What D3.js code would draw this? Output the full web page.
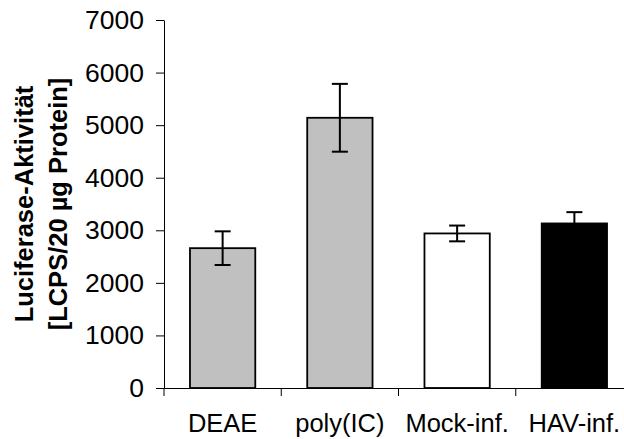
<!DOCTYPE html>
<html>
<head>
<meta charset="utf-8">
<script src="https://cdn.jsdelivr.net/npm/d3@7"></script>
<style>
  body { margin: 0; background: #fff; }
  text { font-family: "Liberation Sans", Arial, sans-serif; }
</style>
</head>
<body>
<div id="chart"></div>
<script>
//Chart data
const categories = ["DEAE", "poly(IC)", "Mock-inf.", "HAV-inf."];
const values = [2660, 5140, 2940, 3130];
const errors = [320, 645, 150, 215];
const yTicks = [0, 1000, 2000, 3000, 4000, 5000, 6000, 7000];
const titleLines = ["Luciferase-Aktivität", "[LCPS/20 µg Protein]"];

//Svg size
const c_width = 624;
const c_height = 439;

const svg = d3.select("#chart")
              .append("svg")
              .attr("width", c_width)
              .attr("height", c_height);

//Plot area
const plotLeft = 164, plotRight = 633, plotTop = 20, plotBottom = 388;

//Scales
const yScale = d3.scaleLinear()
                 .domain([0, 7000])
                 .range([plotBottom, plotTop]);

const xScale = d3.scaleBand()
                 .domain(categories)
                 .range([plotLeft, plotRight])
                 .padding(0);

const barScale = d3.scaleBand()
                   .domain(categories)
                   .range([plotLeft, plotRight])
                   .paddingInner(0.443)
                   .paddingOuter(0.2215);

const fill = d3.scaleOrdinal()
               .domain(categories)
               .range(["#c0c0c0", "#c0c0c0", "#ffffff", "#000000"]);

const data = categories.map((c, i) => ({cat: c, value: values[i], err: errors[i]}));

//Y axis
const yAxis = svg.append("g")
                 .attr("transform", "translate(" + plotLeft + ",0)")
                 .call(d3.axisLeft(yScale)
                         .tickValues(yTicks)
                         .tickFormat(d3.format("d"))
                         .tickSize(8)
                         .tickSizeOuter(0)
                         .tickPadding(12));
yAxis.selectAll("text").style("font-size", "26.5px").attr("fill", "#000");
yAxis.selectAll("line, path").attr("stroke", "#000");

//X axis (labels only, boundary ticks below)
const xAxis = svg.append("g")
                 .attr("transform", "translate(0," + plotBottom + ")")
                 .call(d3.axisBottom(xScale)
                         .tickSize(0)
                         .tickSizeOuter(0)
                         .tickPadding(26));
xAxis.select("path").attr("stroke", "#000");
xAxis.selectAll("text").style("font-size", "25.5px").attr("fill", "#000");

const bounds = categories.map(c => xScale(c)).concat([xScale.range()[1]]);
svg.append("g")
   .selectAll("line")
   .data(bounds)
   .enter()
   .append("line")
   .attr("x1", d => d)
   .attr("x2", d => d)
   .attr("y1", plotBottom)
   .attr("y2", plotBottom + 8)
   .attr("stroke", "#000");

//Bars
svg.append("g")
   .selectAll("rect")
   .data(data)
   .enter()
   .append("rect")
   .attr("x", d => barScale(d.cat))
   .attr("y", d => yScale(d.value))
   .attr("width", barScale.bandwidth())
   .attr("height", d => yScale(0) - yScale(d.value))
   .attr("fill", d => fill(d.cat))
   .attr("stroke", "#000")
   .attr("stroke-width", 1.8);

//Error bars
const capW = 8;
const eb = svg.append("g")
              .attr("stroke", "#000")
              .attr("stroke-width", 2)
              .selectAll("g")
              .data(data)
              .enter()
              .append("g")
              .attr("transform", d => "translate(" + (barScale(d.cat) + barScale.bandwidth()/2) + ",0)");

eb.append("line")
  .attr("y1", d => yScale(d.value + d.err))
  .attr("y2", d => yScale(d.value - d.err));
eb.append("line")
  .attr("x1", -capW).attr("x2", capW)
  .attr("y1", d => yScale(d.value + d.err))
  .attr("y2", d => yScale(d.value + d.err));
eb.append("line")
  .attr("x1", -capW).attr("x2", capW)
  .attr("y1", d => yScale(d.value - d.err))
  .attr("y2", d => yScale(d.value - d.err));

//Y axis title
const title = svg.append("text")
                 .attr("transform", "translate(0," + (plotTop + plotBottom)/2 + ") rotate(-90)")
                 .attr("text-anchor", "middle")
                 .style("font-size", "25.5px")
                 .style("font-weight", "bold")
                 .attr("fill", "#000");
title.selectAll("tspan")
     .data(titleLines)
     .enter()
     .append("tspan")
     .attr("x", 0)
     .attr("y", (d, i) => 33 + i*34)
     .text(d => d);
</script>
</body>
</html>
